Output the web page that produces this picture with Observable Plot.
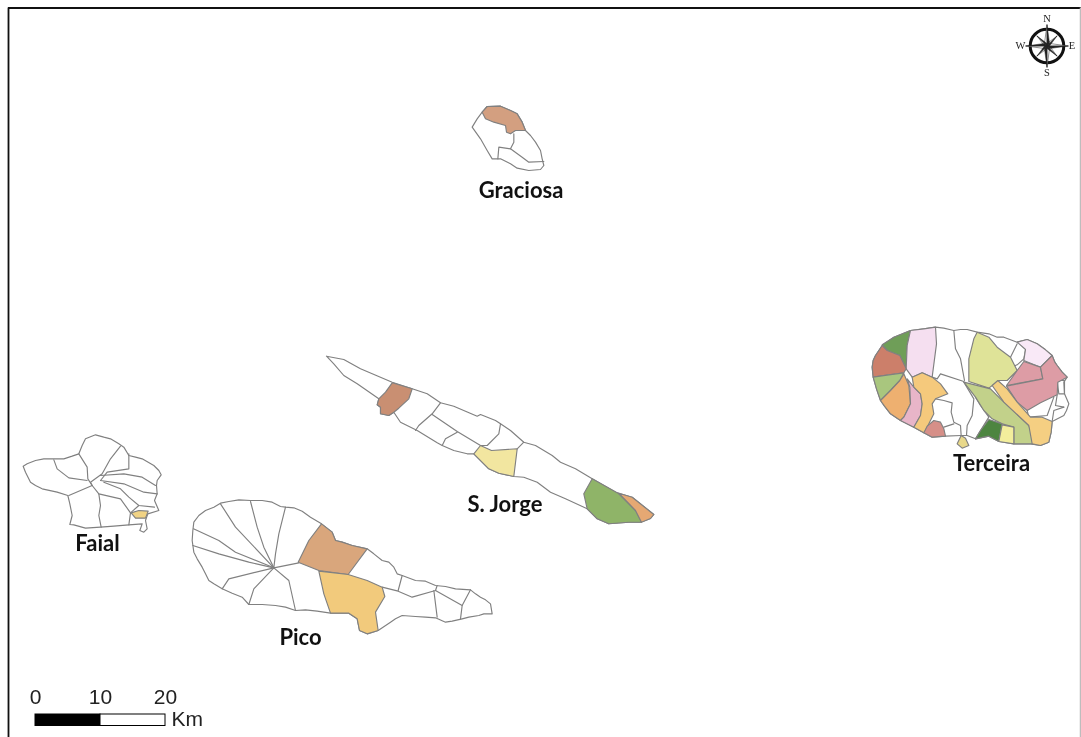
<!DOCTYPE html>
<html><head><meta charset="utf-8">
<script src="https://cdn.jsdelivr.net/npm/d3@7"></script>
<script src="https://cdn.jsdelivr.net/npm/@observablehq/plot@0.6"></script>
<style>html,body{margin:0;padding:0;background:#fff}svg{display:block;filter:blur(.35px)}</style>
</head><body><div id="chart"></div>
<script>
const terceiraOrigin=[860,315], faialOrigin=[10,425], picoOrigin=[185,490], graciosaOrigin=[460,95], jorgeOrigin=[0,0];
const terceiraOutline=[[150,45],[190,40],[225,35],[250,38],[280,45],[300,42],[320,42],[350,50],[385,55],[410,65],[430,65],[470,80],[500,72],[530,85],[555,103],[575,120],[583,140],[590,150],[605,170],[620,185],[610,200],[612,235],[625,265],[618,285],[610,300],[575,318],[572,350],[565,380],[540,390],[510,385],[460,385],[415,378],[385,362],[345,370],[320,360],[302,360],[255,362],[215,365],[190,352],[160,335],[120,315],[90,295],[72,272],[60,255],[48,220],[38,185],[35,155],[38,135],[45,120],[65,90],[100,65]];
const terceiraLines=[
 [[280,45],[285,100],[300,130],[312,195]],
 [[215,185],[230,190],[240,175],[310,198]],
 [[310,200],[340,250],[335,300],[320,330],[318,360]],
 [[225,250],[250,255],[275,262],[272,290],[280,320],[300,330],[302,360]],
 [[250,335],[280,325]],
 [[345,245],[360,270],[385,305],[360,345],[345,370]],
 [[470,85],[450,125],[445,158],[470,148],[490,130],[495,102]],
 [[500,285],[505,305],[560,300],[580,245]],
 [[590,195],[612,195],[612,235],[595,235],[590,195]],
 [[590,238],[585,270],[610,275]],
 [[575,318],[580,285],[610,275]]
];
const terceiraParcels=[
 ["#6f9e58",[[65,88],[100,65],[150,45],[140,90],[137,160],[118,120],[80,105]]],
 ["#f5dff0",[[150,45],[190,40],[225,35],[228,85],[215,185],[185,172],[155,185],[137,160],[140,90]]],
 ["#cc7f6a",[[65,90],[80,105],[118,120],[137,160],[130,172],[85,178],[38,185],[35,155],[38,135],[45,120]]],
 ["#a9c67e",[[38,185],[85,178],[130,172],[118,195],[90,225],[60,255],[48,220]]],
 ["#eeb070",[[130,175],[145,210],[150,265],[130,305],[120,315],[90,295],[72,272],[60,255],[90,225],[118,195]]],
 ["#e8b5c8",[[140,190],[160,215],[180,235],[185,265],[180,300],[160,335],[120,315],[130,305],[150,265],[148,215]]],
 ["#f5c97c",[[155,185],[185,172],[215,185],[240,205],[262,235],[225,250],[215,265],[220,295],[195,345],[190,352],[160,335],[180,300],[185,265],[180,235],[160,215]]],
 ["#d68f88",[[220,315],[240,320],[250,340],[255,362],[215,365],[190,352],[200,332]]],
 ["#dfe398",[[350,50],[385,65],[410,95],[450,125],[470,165],[440,195],[415,195],[385,218],[325,198],[325,130],[340,70]]],
 ["#f9e9f7",[[470,80],[500,72],[530,85],[555,103],[575,120],[540,155],[490,135],[495,102]]],
 ["#dd9ca5",[[490,138],[540,155],[547,190],[438,210],[470,165]]],
 ["#dd9ca5",[[438,212],[547,190],[540,155],[575,120],[583,140],[590,150],[605,170],[620,185],[592,200],[590,238],[540,262],[500,285],[470,260]]],
 ["#c2d18a",[[310,200],[390,220],[420,250],[505,330],[510,345],[520,385],[460,385],[460,335],[425,325],[395,310],[370,285],[345,245]]],
 ["#f5cf82",[[395,210],[412,195],[440,220],[470,260],[510,305],[545,305],[575,318],[572,350],[565,380],[540,390],[515,385],[505,330],[430,260]]],
 ["#4d8540",[[385,312],[425,325],[415,378],[385,362],[345,370],[360,345]]],
 ["#f3ee9c",[[425,328],[460,335],[460,385],[415,378]]],
 ["#e8d88a",[[302,360],[315,368],[325,390],[305,398],[290,385]]]
];
const faialOutline=[[38,122],[50,115],[75,105],[100,100],[125,100],[160,100],[185,92],[205,85],[215,60],[225,40],[255,28],[280,35],[300,40],[325,55],[340,65],[355,90],[375,95],[395,100],[430,120],[445,135],[452,148],[440,165],[438,180],[440,205],[432,225],[445,255],[412,265],[405,285],[410,310],[400,320],[388,315],[395,295],[355,298],[310,302],[270,305],[225,308],[190,298],[178,297],[185,270],[178,235],[172,210],[140,200],[95,190],[75,180],[60,170],[45,140]];
const faialLines=[
 [[130,103],[140,130],[175,157],[230,165]],
 [[205,85],[230,125],[232,160],[245,180]],
 [[330,62],[300,100],[275,145],[240,170],[245,180]],
 [[355,85],[355,130],[290,140],[270,165]],
 [[245,180],[175,210]],
 [[270,150],[340,145],[395,155],[435,180]],
 [[270,165],[340,175],[400,200],[440,205]],
 [[245,180],[265,205],[330,220],[360,262]],
 [[280,170],[330,190],[355,215],[385,240],[432,245]],
 [[265,205],[270,240],[265,270],[272,305]],
 [[360,262],[355,298]],
 [[385,240],[360,262]]
];
const faialParcels=[["#f1d384",[[362,262],[385,255],[413,257],[405,278],[375,278]]]];
const picoOutline=[[25,95],[40,75],[60,60],[85,50],[105,38],[130,33],[160,28],[195,30],[230,30],[260,35],[285,48],[300,50],[325,52],[350,62],[375,80],[408,100],[440,125],[450,150],[470,155],[500,165],[545,175],[565,190],[590,210],[610,215],[625,230],[635,250],[650,255],[690,270],[720,272],[750,285],[780,288],[810,295],[855,298],[870,310],[885,320],[900,328],[915,340],[920,370],[895,370],[880,375],[850,380],[830,385],[800,392],[780,395],[750,382],[720,380],[690,378],[650,375],[630,385],[615,395],[578,420],[545,430],[522,420],[515,385],[490,368],[435,368],[395,362],[360,358],[330,360],[300,350],[270,345],[230,342],[190,342],[170,320],[140,308],[110,295],[85,280],[70,270],[60,250],[50,230],[35,205],[25,185],[20,150],[22,120]];
const picoLines=[
 [[105,40],[150,110],[265,232]],
 [[195,33],[215,110],[235,170],[265,232]],
 [[300,50],[280,130],[270,190],[265,232]],
 [[24,115],[100,150],[150,185],[265,232]],
 [[22,165],[100,190],[190,215],[265,232]],
 [[110,295],[130,265],[265,232]],
 [[190,342],[205,295],[265,232]],
 [[265,232],[310,270],[330,360]],
 [[265,232],[340,217]],
 [[650,255],[638,300]],
 [[590,290],[638,302],[680,320],[750,300],[755,285]],
 [[745,300],[755,380]],
 [[750,300],[830,345],[855,298]],
 [[830,345],[825,385]]
];
const picoParcels=[
 ["#d9a67c",[[408,100],[440,125],[450,150],[470,155],[500,165],[545,175],[488,252],[400,240],[338,215],[370,150]]],
 ["#f2ca7c",[[400,242],[488,252],[545,270],[590,290],[598,318],[570,365],[578,420],[545,430],[522,420],[515,385],[490,368],[435,368],[415,310]]]
];
const graciosaOutline=[[65,50],[80,33],[120,32],[150,45],[170,55],[185,80],[195,105],[210,120],[225,140],[240,165],[245,190],[250,210],[240,222],[205,225],[170,218],[150,205],[120,190],[95,190],[80,165],[60,130],[35,95],[50,70]];
const graciosaLines=[
 [[160,115],[160,140],[150,160],[115,155],[112,190]],
 [[150,160],[185,185],[205,200],[250,198]],
 [[195,105],[165,105]]
];
const graciosaParcels=[["#d39f80",[[65,50],[80,33],[120,32],[150,45],[170,55],[185,80],[195,105],[165,105],[150,115],[138,110],[135,90],[100,80],[75,70]]]];
const jorgeOutline=[[326,355.7],[343.3,359],[360,368.3],[391.7,381.7],[411.7,388.3],[426.7,393.3],[440,402.3],[453.3,405.7],[476.7,415.7],[480,414],[495,420],[500,423.3],[510,430],[523.3,441.7],[535,445],[551.7,455],[560,461.7],[575,468.3],[591.7,478.3],[615,491.7],[631.7,496.7],[653.3,514],[650,518],[640,521.7],[628.3,521.7],[608.3,523.3],[596.7,518.3],[586.7,508.3],[565,498.3],[550,491.7],[536.7,481.7],[523.3,476.7],[513.3,476],[498.3,472.7],[488.3,468.3],[473.3,453.3],[466.7,453.3],[453.3,450],[441.7,445],[436.7,442.3],[416.7,430],[400,421.7],[393.3,411.7],[388.3,415],[380,413.3],[380,406.7],[376.7,404.3],[378.3,398.3],[356.7,383.3],[343.3,375],[333.3,363.3]];
const jorgeLines=[
 [[523.3,441.7],[516.7,448.3]],
 [[500,423.3],[498.3,433.3],[486.7,445],[480,445]],
 [[431.7,414],[456.7,431],[480,445]],
 [[440,402.3],[431.7,413.3],[418.3,425],[415,430]],
 [[456.7,431.7],[445,438.3],[441.7,445]]
];
const jorgeParcels=[
 ["#c98f72",[[391.7,382.3],[411.7,388.3],[408.3,398.3],[398.3,407.7],[393.3,411.7],[388.3,415],[380,413.3],[380,406.7],[376.7,404.3],[378.3,398.3],[385,391.7]]],
 ["#f2e6a0",[[473.3,453.3],[480,445],[491,450],[516.7,448.3],[513.3,476],[498.3,472.7],[488.3,468.3]]],
 ["#8fb468",[[591.7,478.3],[618,493],[635,510],[641,521.7],[628.3,521.7],[608.3,523.3],[596.7,518.3],[586.7,508.3],[583.3,493.3]]],
 ["#e5a873",[[618.3,492.7],[631.7,496.7],[653.3,514],[650,518],[641,521.7],[635,510]]]
];
const islandNames=["Graciosa","Terceira","S. Jorge","Faial","Pico"];
const islandLabelX=[520.5,991,504.5,97,300];
const islandLabelY=[190,463,504,543,637];
const scaleKm=[0,10,20];
const kmOrigin=35, pxPerKm=6.5;
const scaleBarTop=714, scaleBarBottom=725.5, scaleLabelY=697;
const compass=[1046.5,45.5];
const compassLetters=["N","E","S","W"];
const compassLetterX=[1046.5,1071.5,1046.5,1020];
const compassLetterY=[18,45,72,45];

const islands=[
 {origin:terceiraOrigin,scale:3,outline:terceiraOutline,lines:terceiraLines,parcels:terceiraParcels},
 {origin:faialOrigin,scale:3,outline:faialOutline,lines:faialLines,parcels:faialParcels},
 {origin:picoOrigin,scale:3,outline:picoOutline,lines:picoLines,parcels:picoParcels},
 {origin:graciosaOrigin,scale:3,outline:graciosaOutline,lines:graciosaLines,parcels:graciosaParcels},
 {origin:jorgeOrigin,scale:1,outline:jorgeOutline,lines:jorgeLines,parcels:jorgeParcels}
];
let uid=0;
const outlineRows=[],lineRows=[],parcelRows=[];
const push=(target,isl,pts,fill)=>{const id=uid++;pts.forEach(p=>target.push({id,fill,x:isl.origin[0]+p[0]/isl.scale,y:isl.origin[1]+p[1]/isl.scale}));};
for(const isl of islands){
 push(outlineRows,isl,isl.outline,"#ffffff");
 isl.lines.forEach(l=>push(lineRows,isl,l));
 isl.parcels.forEach(([c,pts])=>push(parcelRows,isl,pts,c));
}
// compass star: alternating long and short points, each with one dark half
const starDark=[],starLight=[];
d3.range(8).forEach(i=>{
 const a=i*Math.PI/4, len=i%2?14:21, w=i%2?2.5:3.6;
 const pt=(r,t)=>({x:compass[0]+r*Math.sin(t),y:compass[1]-r*Math.cos(t)});
 const tip=pt(len,a), l=pt(w,a-Math.PI/4), r=pt(w,a+Math.PI/4), c=pt(0,a);
 [tip,r,c].forEach(p=>starDark.push({...p,id:i}));
 [tip,l,c].forEach(p=>starLight.push({...p,id:i}));
});
const kmRows=scaleKm.map(k=>({k,x:kmOrigin+k*pxPerKm}));
const outlineStyle={stroke:"#808080",strokeWidth:1.15,strokeLinejoin:"round"};

const chart=Plot.plot({
 width:1081,height:737,margin:0,
 x:{domain:[0,1081],axis:null},
 y:{domain:[737,0],axis:null},
 color:{type:"identity"},
 style:{background:"#fff"},
 marks:[
  Plot.line(outlineRows,{x:"x",y:"y",z:"id",fill:"fill",curve:"linear-closed",...outlineStyle}),
  Plot.line(lineRows,{x:"x",y:"y",z:"id",...outlineStyle}),
  Plot.line(parcelRows,{x:"x",y:"y",z:"id",fill:"fill",curve:"linear-closed",...outlineStyle}),
  Plot.text(islandNames,{x:(d,i)=>islandLabelX[i],y:(d,i)=>islandLabelY[i],text:d=>d,fontFamily:"Lato",fontWeight:700,fontSize:22,fill:"#111"}),
  Plot.rect([0],{x1:()=>kmOrigin,x2:()=>kmOrigin+10*pxPerKm,y1:()=>scaleBarTop,y2:()=>scaleBarBottom,fill:"#000",stroke:"#000"}),
  Plot.rect([0],{x1:()=>kmOrigin+10*pxPerKm,x2:()=>kmOrigin+20*pxPerKm,y1:()=>scaleBarTop,y2:()=>scaleBarBottom,fill:"#fff",stroke:"#000"}),
  Plot.text(kmRows,{x:"x",y:()=>scaleLabelY,text:"k",fontFamily:"Liberation Sans",fontSize:21,fill:"#222"}),
  Plot.text(["Km"],{x:()=>171,y:()=>718.5,text:d=>d,textAnchor:"start",fontFamily:"Liberation Sans",fontSize:21,fill:"#222"}),
  Plot.dot([compass],{x:d=>d[0],y:d=>d[1],r:16.8,stroke:"#111",strokeWidth:3,fill:"#fff"}),
  Plot.line(starLight,{x:"x",y:"y",z:"id",fill:"#fff",stroke:"#222",strokeWidth:.5,curve:"linear-closed"}),
  Plot.line(starDark,{x:"x",y:"y",z:"id",fill:"#222",stroke:"#222",strokeWidth:.5,curve:"linear-closed"}),
  Plot.text(compassLetters,{x:(d,i)=>compassLetterX[i],y:(d,i)=>compassLetterY[i],text:d=>d,fontFamily:"Liberation Serif",fontSize:10.5,fill:"#222"}),
  Plot.ruleX([8],{y1:7.5,y2:737,stroke:"#111",strokeWidth:1.8}),
  Plot.ruleY([7.5],{x1:8,x2:1081,stroke:"#111",strokeWidth:1.8}),
  Plot.ruleX([1080],{y1:7.5,y2:737,stroke:"#bdbdbd",strokeWidth:1.5})
 ]
});
document.getElementById("chart").append(chart);
</script></body></html>
